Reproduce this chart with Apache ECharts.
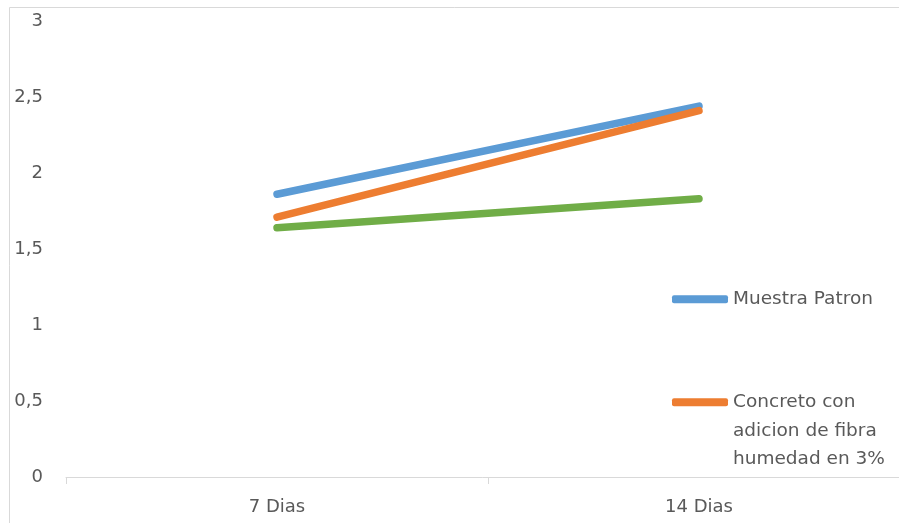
<!DOCTYPE html>
<html>
<head>
<meta charset="utf-8">
<script src="https://cdn.jsdelivr.net/npm/echarts@6/dist/echarts.min.js"></script>
<style>
  html, body { margin: 0; padding: 0; background: #ffffff; }
  #chart { width: 899px; height: 523px; }
</style>
</head>
<body>
<div id="chart"></div>
<script>
// Categories (curing age) and values per sample
const categories = ['7 Dias', '14 Dias'];
const muestraPatron = [1.86, 2.44];
const fibra3 = [1.71, 2.41];
const serie3 = [1.64, 1.83];
const yTicks = { min: 0, max: 3, interval: 0.5 };

const seriesNames = [
  'Muestra Patron',
  'Concreto con adicion de fibra humedad en 3%',
  'Serie 3'
];
const colors = ['#5B9BD5', '#ED7D31', '#70AD47'];

const FONT = 'DejaVu Sans';
const TEXT = '#595959';

const chart = echarts.init(document.getElementById('chart'), null, { renderer: 'canvas' });

function lineSeries(name, data, color) {
  return {
    name: name,
    type: 'line',
    data: data,
    showSymbol: false,
    symbol: 'none',
    color: color,
    lineStyle: { color: color, width: 7.5, cap: 'round', join: 'round' },
    animation: false
  };
}

chart.setOption({
  animation: false,
  backgroundColor: '#ffffff',
  graphic: [{
    type: 'rect',
    shape: { x: 9.5, y: 7.5, width: 900, height: 530 },
    style: { fill: 'none', stroke: '#d9d9d9', lineWidth: 1 },
    silent: true,
    z: -1
  }],
  grid: {
    left: 66, top: 21, width: 844, height: 456,
    containLabel: false, outerBoundsMode: 'none'
  },
  xAxis: {
    type: 'category',
    data: categories,
    boundaryGap: true,
    axisLine: { show: true, lineStyle: { color: '#d9d9d9', width: 1 } },
    axisTick: { show: true, length: 7, lineStyle: { color: '#d9d9d9' } },
    axisLabel: { color: TEXT, fontFamily: FONT, fontSize: 18, margin: 21 },
    splitLine: { show: false }
  },
  yAxis: {
    type: 'value',
    min: yTicks.min,
    max: yTicks.max,
    interval: yTicks.interval,
    axisLine: { show: false },
    axisTick: { show: false },
    splitLine: { show: false },
    axisLabel: {
      color: TEXT, fontFamily: FONT, fontSize: 18, margin: 23,
      formatter: v => String(v).replace('.', ',')
    }
  },
  legend: [{
    data: [seriesNames[0]],
    orient: 'vertical',
    left: 672,
    top: 285,
    icon: 'roundRect',
    itemWidth: 56,
    itemHeight: 8,
    itemGap: 0,
    padding: 0,
    textStyle: { color: TEXT, fontFamily: FONT, fontSize: 18.5, lineHeight: 28.5 }
  }, {
    data: [seriesNames[1]],
    orient: 'vertical',
    left: 672,
    top: 331,
    icon: 'roundRect',
    itemWidth: 56,
    itemHeight: 8,
    itemGap: 0,
    padding: 0,
    // two blank lines on top keep the icon beside the first text line
    formatter: () => '\n\nConcreto con\nadicion de fibra\nhumedad en 3%',
    textStyle: { color: TEXT, fontFamily: FONT, fontSize: 18.5, lineHeight: 28.5 }
  }],
  series: [
    lineSeries(seriesNames[0], muestraPatron, colors[0]),
    lineSeries(seriesNames[1], fibra3, colors[1]),
    lineSeries(seriesNames[2], serie3, colors[2])
  ]
});
</script>
</body>
</html>
